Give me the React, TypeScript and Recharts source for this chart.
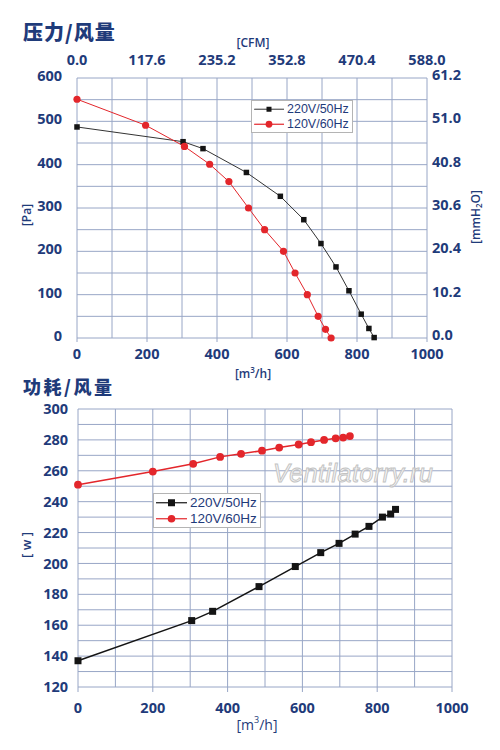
import React from 'react';
import { LineChart, Line, XAxis, YAxis, CartesianGrid, Legend } from 'recharts';

const NAVY = '#1f3b7a';
const GRID = '#98a6c6';
const RED = '#e3262b';
const BLACK = '#141414';
const FONT = '"Open Sans", "Noto Sans", sans-serif';
const LEGEND_FONT = '"Liberation Sans", Arial, sans-serif';
const CJK = '"Noto Sans CJK SC", sans-serif';

// pressure / airflow
const FLOW_P_220 = [0, 303, 360, 484, 581, 648, 697, 740, 777, 812, 834, 849];
const PA_220 = [487, 453, 437, 382, 327, 273, 218, 164, 109, 55, 22, 1];
const FLOW_P_120 = [0, 196, 307, 379, 434, 490, 536, 590, 623, 658, 689, 710, 726];
const PA_120 = [551, 491, 442, 401, 361, 300, 250, 200, 150, 100, 50, 20, 0];

// power / airflow
const FLOW_W_220 = [0, 304, 360, 484, 581, 649, 698, 741, 778, 814, 836, 849];
const W_220 = [137, 163, 169, 185, 198, 207, 213, 219, 224, 230, 232, 235];
const FLOW_W_120 = [0, 200, 308, 380, 436, 492, 538, 590, 623, 658, 689, 709, 727];
const W_120 = [251, 259.5, 264.5, 269, 271, 273, 275, 277, 278.5, 280, 281, 281.5, 282.5];

const FLOW_TICKS = [0, 200, 400, 600, 800, 1000];
const FLOW_GRID = [0, 100, 200, 300, 400, 500, 600, 700, 800, 900, 1000];
const CFM_TICKS = ['0.0', '117.6', '235.2', '352.8', '470.4', '588.0'];
const PA_TICKS = [0, 100, 200, 300, 400, 500, 600];
const PA_GRID = [0, 50, 100, 150, 200, 250, 300, 350, 400, 450, 500, 550, 600];
const MMH2O_TICKS = ['0.0', '10.2', '20.4', '30.6', '40.8', '51.0', '61.2'];
const W_TICKS = [120, 140, 160, 180, 200, 220, 240, 260, 280, 300];
const W_GRID = [120, 130, 140, 150, 160, 170, 180, 190, 200, 210, 220, 230, 240, 250, 260, 270, 280, 290, 300];

const SERIES = ['220V/50Hz', '120V/60Hz'];

const zip = (flow: number[], values: number[]) => flow.map((f, i) => ({ flow: f, value: values[i] }));

const tickStyle = { fill: NAVY, fontSize: 14.5, fontFamily: FONT, fontWeight: 700 };

const squareDot = (size: number) => (props: any) => (
  <rect
    key={`sq-${props.index}`}
    x={props.cx - size / 2}
    y={props.cy - size / 2}
    width={size}
    height={size}
    fill={BLACK}
  />
);

function LegendBox({ sq, r, fontSize, rowH, lineW, lineColor }: any) {
  return (
    <div
      style={{
        border: '1px solid #b4b4b4',
        background: 'white',
        padding: '1px 3px 1px 2px',
        fontFamily: LEGEND_FONT,
        fontSize,
        color: NAVY,
        lineHeight: `${rowH}px`,
      }}
    >
      {SERIES.map((name, i) => (
        <div key={name} style={{ display: 'flex', alignItems: 'center', whiteSpace: 'nowrap', height: rowH }}>
          <svg width={lineW} height={rowH} style={{ marginRight: 3 }}>
            <line
              x1={0}
              x2={lineW}
              y1={rowH / 2}
              y2={rowH / 2}
              stroke={i === 0 ? lineColor : RED}
              strokeWidth={1.2}
            />
            {i === 0 ? (
              <rect x={lineW / 2 - sq / 2} y={rowH / 2 - sq / 2} width={sq} height={sq} fill={BLACK} />
            ) : (
              <circle cx={lineW / 2} cy={rowH / 2} r={r} fill={RED} />
            )}
          </svg>
          <span>{name}</span>
        </div>
      ))}
    </div>
  );
}

function PressureChart() {
  return (
    <LineChart width={500} height={375} margin={{ top: 0, right: 0, bottom: 0, left: 0 }}>
      <CartesianGrid
        xAxisId="m3"
        yAxisId="pa"
        stroke={GRID}
        strokeWidth={1}
        verticalValues={FLOW_GRID}
        horizontalValues={PA_GRID}
      />
      <XAxis
        xAxisId="m3"
        dataKey="flow"
        type="number"
        domain={[0, 1000]}
        ticks={FLOW_TICKS}
        interval={0}
        height={37}
        axisLine={false}
        tickLine={{ stroke: GRID }}
        tickSize={4}
        tickMargin={7}
        tick={tickStyle}
      />
      <XAxis
        xAxisId="cfm"
        dataKey="flow"
        orientation="top"
        type="number"
        domain={[0, 1000]}
        ticks={FLOW_TICKS}
        interval={0}
        height={78}
        axisLine={false}
        tickLine={false}
        tickSize={0}
        tickMargin={13}
        tick={tickStyle}
        tickFormatter={(_v: number, i: number) => CFM_TICKS[i]}
      />
      <YAxis
        yAxisId="pa"
        type="number"
        domain={[0, 600]}
        ticks={PA_TICKS}
        interval={0}
        width={77}
        axisLine={false}
        tickLine={false}
        tickSize={0}
        tickMargin={15}
        tick={{ ...tickStyle, dy: -2 }}
      />
      <YAxis
        yAxisId="mm"
        orientation="right"
        type="number"
        domain={[0, 600]}
        ticks={PA_TICKS}
        interval={0}
        width={73}
        axisLine={false}
        tickLine={false}
        tickSize={0}
        tickMargin={5}
        tick={{ ...tickStyle, dy: -3 }}
        tickFormatter={(_v: number, i: number) => MMH2O_TICKS[i]}
      />
      {/* invisible copy that ties the CFM and mmH2O axes to data */}
      <Line
        xAxisId="cfm"
        yAxisId="mm"
        data={zip(FLOW_P_220, PA_220)}
        dataKey="value"
        stroke="none"
        dot={false}
        activeDot={false}
        legendType="none"
        isAnimationActive={false}
      />
      <Line
        xAxisId="m3"
        yAxisId="pa"
        data={zip(FLOW_P_220, PA_220)}
        dataKey="value"
        name={SERIES[0]}
        stroke="#333333"
        strokeWidth={1}
        dot={squareDot(5.5)}
        activeDot={false}
        isAnimationActive={false}
      />
      <Line
        xAxisId="m3"
        yAxisId="pa"
        data={zip(FLOW_P_120, PA_120)}
        dataKey="value"
        name={SERIES[1]}
        stroke={RED}
        strokeWidth={1}
        dot={{ r: 3.6, fill: RED, stroke: RED, strokeWidth: 0 }}
        activeDot={false}
        isAnimationActive={false}
      />
      <Legend
        layout="vertical"
        align="center"
        verticalAlign="middle"
        wrapperStyle={{ top: 100, left: 251, width: 'auto' }}
        content={() => <LegendBox sq={5} r={3.4} fontSize={12.5} rowH={14.5} lineW={30} lineColor="#555" />}
      />
    </LineChart>
  );
}

function PowerChart() {
  return (
    <LineChart width={500} height={375} margin={{ top: 34, right: 48, bottom: 0, left: 0 }}>
      <CartesianGrid stroke={GRID} strokeWidth={1} verticalValues={FLOW_GRID} horizontalValues={W_GRID} />
      <XAxis
        dataKey="flow"
        type="number"
        domain={[0, 1000]}
        ticks={FLOW_TICKS}
        interval={0}
        height={63}
        axisLine={false}
        tickLine={{ stroke: GRID }}
        tickSize={5}
        tickMargin={11}
        tick={tickStyle}
      />
      <YAxis
        type="number"
        domain={[120, 300]}
        ticks={W_TICKS}
        interval={0}
        width={78}
        axisLine={false}
        tickLine={false}
        tickSize={0}
        tickMargin={10}
        tick={tickStyle}
      />
      <Line
        data={zip(FLOW_W_220, W_220)}
        dataKey="value"
        name={SERIES[0]}
        stroke={BLACK}
        strokeWidth={1.5}
        dot={squareDot(7)}
        activeDot={false}
        isAnimationActive={false}
      />
      <Line
        data={zip(FLOW_W_120, W_120)}
        dataKey="value"
        name={SERIES[1]}
        stroke={RED}
        strokeWidth={1.5}
        dot={{ r: 3.9, fill: RED, stroke: RED, strokeWidth: 0 }}
        activeDot={false}
        isAnimationActive={false}
      />
      <Legend
        layout="vertical"
        align="center"
        verticalAlign="middle"
        wrapperStyle={{ top: 118, left: 153, width: 'auto' }}
        content={() => <LegendBox sq={7} r={3.8} fontSize={13.5} rowH={15.5} lineW={31} lineColor={BLACK} />}
      />
    </LineChart>
  );
}

export default function App() {
  const label = { fill: NAVY, fontFamily: FONT, fontWeight: 600 };
  return (
    <div style={{ position: 'absolute', top: 0, left: 0, width: 500, height: 750, background: 'white' }}>
      <div style={{ position: 'absolute', top: 0, left: 0 }}>
        <PressureChart />
      </div>
      <div style={{ position: 'absolute', top: 375, left: 0 }}>
        <PowerChart />
      </div>
      <svg
        width={500}
        height={750}
        style={{ position: 'absolute', top: 0, left: 0, pointerEvents: 'none' }}
      >
        <text x={23} y={31} dominantBaseline="central" fill={NAVY} fontFamily={CJK} fontWeight={900} fontSize={20} letterSpacing={1}>
          压力/风量
        </text>
        <text x={23} y={386} dominantBaseline="central" fill={NAVY} fontFamily={CJK} fontWeight={900} fontSize={18} letterSpacing={2.5}>
          功耗/风量
        </text>
        <text x={253} y={42} textAnchor="middle" dominantBaseline="central" fontSize={12} {...label}>
          [CFM]
        </text>
        <text x={26} y={215} textAnchor="middle" dominantBaseline="central" fontSize={12} transform="rotate(-90 26 215)" {...label}>
          [Pa]
        </text>
        <text x={475} y={217} textAnchor="middle" dominantBaseline="central" fontSize={12} transform="rotate(-90 475 217)" {...label}>
          [mmH<tspan fontSize={8} dy={3}>2</tspan><tspan dy={-3}>O]</tspan>
        </text>
        <text x={253} y={373} textAnchor="middle" dominantBaseline="central" fontSize={12} {...label}>
          [m<tspan fontSize={8} dy={-4}>3</tspan><tspan dy={4}>/h]</tspan>
        </text>
        <text x={26} y={545} textAnchor="middle" dominantBaseline="central" fontSize={13} transform="rotate(-90 26 545)" {...label}>
          [ w ]
        </text>
        <text x={257} y={724} textAnchor="middle" dominantBaseline="central" fontSize={14} fill={NAVY} fontFamily={FONT}>
          [m<tspan fontSize={9} dy={-5}>3</tspan><tspan dy={5}>/h]</tspan>
        </text>
        <text
          x={273}
          y={473}
          dominantBaseline="central"
          fontSize={25}
          letterSpacing={0.5}
          fontStyle="italic"
          fontFamily={LEGEND_FONT}
          fill="#f4f4f4"
          stroke="#c2c2c2"
          strokeWidth={0.9}
        >
          Ventilatorry.ru
        </text>
      </svg>
    </div>
  );
}
